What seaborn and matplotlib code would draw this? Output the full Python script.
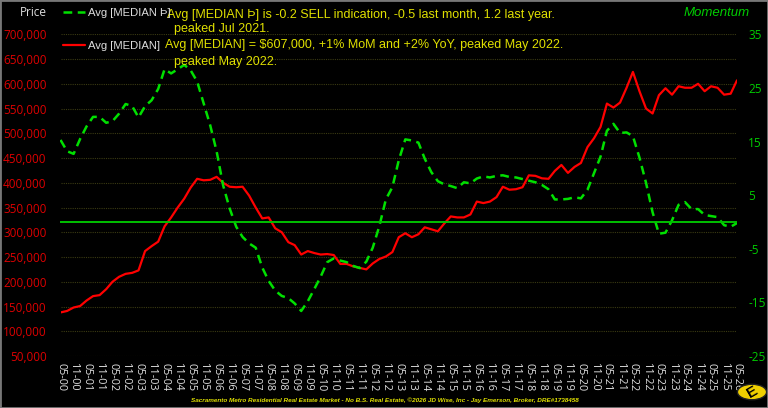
import pandas as pd
import numpy as np
import matplotlib.pyplot as plt
from matplotlib.patches import Circle, Rectangle
import seaborn as sns

# --- 数据：2000-05 起每 3 个月一个点 ---
start_month = '2000-05-01'
end_month = '2026-05-01'

# Avg [MEDIAN]，单位：千美元
median_price_k = [
    138, 141, 148, 151, 162, 171, 173, 185, 200, 210,
    216, 218, 223, 262, 272, 281, 312, 330, 350, 368,
    390, 408, 405, 406, 412, 400, 392, 391, 392, 374,
    350, 328, 330, 308, 300, 280, 274, 255, 262, 258,
    255, 256, 254, 236, 236, 231, 228, 225, 237, 246,
    251, 260, 290, 298, 290, 296, 310, 306, 302, 318,
    332, 330, 330, 336, 362, 359, 362, 371, 392, 386,
    387, 391, 415, 414, 409, 408, 424, 436, 420, 432,
    440, 472, 490, 513, 560, 552, 562, 592, 624, 585,
    550, 540, 577, 591, 578, 595, 592, 592, 600, 585,
    595, 592, 578, 580, 607,
]

# Avg [MEDIAN Þ]（动量）
momentum = [
    15.3, 13.2, 12.7, 15.5, 17.8, 19.6, 19.6, 18.5, 18.8, 20.2,
    22.0, 21.6, 19.5, 21.6, 22.7, 24.8, 28.5, 27.7, 28.5, 29.3,
    28.3, 26.2, 22.1, 18.0, 13.2, 6.8, 2.5, -0.9, -2.8, -4.0,
    -4.8, -8.5, -11.0, -12.8, -13.8, -14.2, -15.2, -16.6, -14.8, -12.5,
    -10.2, -7.5, -6.8, -7.2, -7.5, -8.2, -8.6, -7.4, -4.8, -0.8,
    4.2, 6.5, 11.5, 15.4, 15.2, 14.8, 11.8, 9.3, 7.6, 7.0,
    6.7, 6.3, 7.4, 7.2, 8.1, 8.5, 8.3, 8.6, 8.7, 8.4,
    8.3, 8.0, 7.7, 7.4, 6.9, 6.1, 4.2, 4.2, 4.3, 4.6,
    4.4, 6.0, 9.1, 12.2, 17.0, 18.3, 16.6, 16.7, 16.0, 12.0,
    7.3, 1.8, -2.2, -2.0, 0.3, 3.2, 3.7, 2.4, 2.4, 1.3,
    1.1, 0.9, -0.6, -0.9, -0.2,
]

price_ticks = list(range(50000, 700001, 50000))
momentum_ticks = [-25, -15, -5, 5, 15, 25, 35]
momentum_ref = 0

legend_labels = ['Avg [MEDIAN Þ]', 'Avg [MEDIAN]']
notes = [
    'Avg [MEDIAN Þ] is -0.2 SELL indication, -0.5 last month, 1.2 last year.',
    'peaked Jul 2021.',
    'Avg [MEDIAN] = $607,000, +1% MoM and +2% YoY, peaked May 2022.',
    'peaked May 2022.',
]
footer = ('Sacramento Metro Residential Real Estate Market - No B.S. Real Estate, '
          '©2026 JD Wise, Inc - Jay Emerson, Broker, DRE#1738458')

dates = pd.date_range(start_month, periods=len(median_price_k), freq='3MS')
df = pd.DataFrame({
    'date': dates,
    'price': np.array(median_price_k) * 1000,
    'momentum': momentum,
})
tick_dates = pd.date_range(start_month, end_month, freq='6MS')
tick_labels = [d.strftime('%m-%y') for d in tick_dates]

# --- 样式 ---
sns.set_theme(style='dark', rc={
    'figure.facecolor': 'black',
    'axes.facecolor': 'black',
    'savefig.facecolor': 'black',
})
plt.rcParams['font.family'] = ['Liberation Sans', 'DejaVu Sans']

RED = '#ff0000'
GREEN = '#00e000'
YELLOW = '#e0e000'
GRID = '#3a3a12'

fig = plt.figure(figsize=(7.68, 4.08), dpi=100)
ax = fig.add_axes([60.5 / 768, 52 / 408, 676.5 / 768, 321.7 / 408])
ax2 = ax.twinx()

sns.lineplot(data=df, x='date', y='price', ax=ax, color=RED, linewidth=1.6,
             label=legend_labels[1], legend=False)
sns.lineplot(data=df, x='date', y='momentum', ax=ax2, color=GREEN, linewidth=1.8,
             linestyle=(0, (3.5, 2.2)), label=legend_labels[0], legend=False)
ax2.axhline(momentum_ref, color='#00c000', linewidth=1.4)

ax.set_xlim(tick_dates[0], tick_dates[-1])
ax.set_ylim(50000, 700000)
ax2.set_ylim(-25, 35)

ax.set_yticks(price_ticks)
ax.set_yticklabels([f'{v:,}' for v in price_ticks], color='#dd0000',
                   fontfamily='Open Sans', fontsize=8.5)
ax2.set_yticks(momentum_ticks)
ax2.set_yticklabels([str(v) for v in momentum_ticks], color='#00cc00',
                    fontfamily='Open Sans', fontsize=8.5)
ax.set_xticks(tick_dates)
ax.set_xticklabels(tick_labels, rotation=270, color='#e0e0e0',
                   fontfamily='Open Sans', fontsize=7.8)

ax.tick_params(axis='y', length=0, pad=10)
ax2.tick_params(axis='y', length=0, pad=8)
ax.tick_params(axis='x', length=0, pad=5)
ax.set_xlabel('')
ax.set_ylabel('')
ax2.set_ylabel('')
ax.grid(False)
ax2.grid(False)
for v in price_ticks:
    ax.axhline(v, color=GRID, linewidth=0.8, linestyle=(0, (1, 1)), zorder=0)
for a in (ax, ax2):
    for s in a.spines.values():
        s.set_visible(False)

# --- 图例与说明文字 ---
h1, l1 = ax.get_legend_handles_labels()
h2, l2 = ax2.get_legend_handles_labels()
leg = fig.legend(h2 + h1, l2 + l1, loc='upper left',
                 bbox_to_anchor=(58 / 768, 1 - 3 / 408), frameon=False,
                 fontsize=8.1, handlelength=2.0, handletextpad=0.3,
                 labelspacing=2.1, borderpad=0.2, borderaxespad=0.2)
for t in leg.get_texts():
    t.set_color('#dddddd')

note_pos = [(167, 15), (174, 29), (165, 45), (174, 62)]
for txt, (px, py) in zip(notes, note_pos):
    fig.text(px / 768, 1 - py / 408, txt, color=YELLOW, fontsize=9,
             ha='left', va='center')

fig.text(20 / 768, 1 - 12 / 408, 'Price', color='#dddddd', fontsize=8.5,
         fontfamily='Open Sans', ha='left', va='center')
fig.text(750 / 768, 1 - 13 / 408, 'Momentum', color='#00cc00', fontsize=9.5,
         style='italic', ha='right', va='center')
fig.text(385 / 768, 1 - 400 / 408, footer, color=YELLOW, fontsize=4.6,
         style='italic', fontweight='bold', ha='center', va='center')

# 右下角标志
fig.add_artist(Circle((752 / 768, 1 - 392 / 408), 0.019, transform=fig.transFigure,
                      facecolor='#f0d000', edgecolor='#222222', linewidth=1))
fig.text(752 / 768, 1 - 392 / 408, 'E', color='black', fontsize=11,
         fontweight='bold', rotation=30, ha='center', va='center')
fig.add_artist(Rectangle((0, 0), 1, 1, transform=fig.transFigure, fill=False,
                         edgecolor='#777777', linewidth=2))

fig.savefig('out.png', dpi=100)
